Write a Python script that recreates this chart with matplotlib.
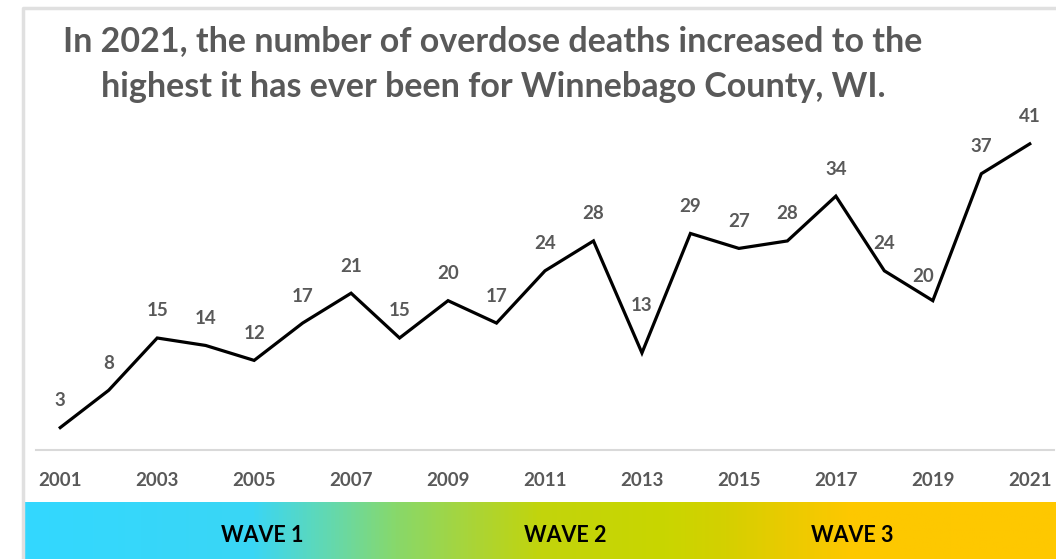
import matplotlib
matplotlib.use("Agg")
import matplotlib.pyplot as plt
import numpy as np
from matplotlib.colors import LinearSegmentedColormap
from matplotlib.lines import Line2D

years = list(range(2001, 2022))
deaths = [3, 8, 15, 14, 12, 17, 21, 15, 20, 17, 24, 28, 13, 29, 27, 28, 34, 24, 20, 37, 41]
tick_years = list(range(2001, 2022, 2))
title = "In 2021, the number of overdose deaths increased to the\nhighest it has ever been for Winnebago County, WI."
wave_labels = ["WAVE 1", "WAVE 2", "WAVE 3"]

# label offsets in pixels (dx, dy)
offsets = {2013: (0, 47), 2019: (-10, 24)}

W, H = 1056, 559
fig = plt.figure(figsize=(W / 100, H / 100), dpi=100)
plt.rcParams['font.family'] = ['Lato', 'DejaVu Sans']

# border
fig.add_artist(Line2D([23 / W, 23 / W, 1.0], [0, 1 - 8 / H, 1 - 8 / H],
                      transform=fig.transFigure, color="#E0E0E0", lw=2.5))

ax = fig.add_axes([36 / W, 1 - 450 / H, (1054 - 36) / W, (450 - 114) / H])
ax.plot(years, deaths, color="black", lw=2.3, solid_joinstyle="miter")
ax.set_xlim(2000.5, 2021.5)
ax.set_ylim(0, 45)
for s in ["top", "right", "left"]:
    ax.spines[s].set_visible(False)
ax.spines["bottom"].set_color("#D9D9D9")
ax.spines["bottom"].set_linewidth(1.5)
ax.set_yticks([])
ax.set_xticks(tick_years)
ax.set_xticklabels([str(y) for y in tick_years], fontsize=13.5, fontweight="bold", color="#595959")
ax.tick_params(axis="x", length=0, pad=16)

for x, y in zip(years, deaths):
    dx, dy = offsets.get(x, (0, 27))
    ax.annotate(str(y), (x, y), xytext=(dx, dy), textcoords="offset pixels",
                ha="center", va="center", fontsize=13.5, fontweight="bold", color="#595959")

fig.text(493 / W, 1 - 64 / H, title, ha="center", va="center", fontsize=24.5,
         fontweight="bold", color="#595959", linespacing=1.55)

# gradient band
gax = fig.add_axes([25 / W, 0, 1 - 25 / W, 57 / H])
stops = [(0.0, "#33D8FF"), (0.22, "#3AD6F5"), (0.30, "#66D9AA"), (0.36, "#88D86A"),
         (0.43, "#A8D53A"), (0.50, "#C2D40C"), (0.62, "#C9D600"), (0.68, "#D4D000"),
         (0.74, "#EACB00"), (0.80, "#FDC800"), (1.0, "#FFC800")]
cmap = LinearSegmentedColormap.from_list("wave", stops)
gax.imshow(np.linspace(0, 1, 512)[None, :], aspect="auto", cmap=cmap, extent=[25, W, 0, 1])
gax.set_xlim(25, W)
gax.set_ylim(0, 1)
gax.axis("off")
for lbl, xc in zip(wave_labels, [262, 565, 852]):
    gax.text(xc, 0.42, lbl, ha="center", va="center", fontsize=15.5, fontweight="bold", color="black")

fig.savefig("out.png", dpi=100, facecolor="white")
